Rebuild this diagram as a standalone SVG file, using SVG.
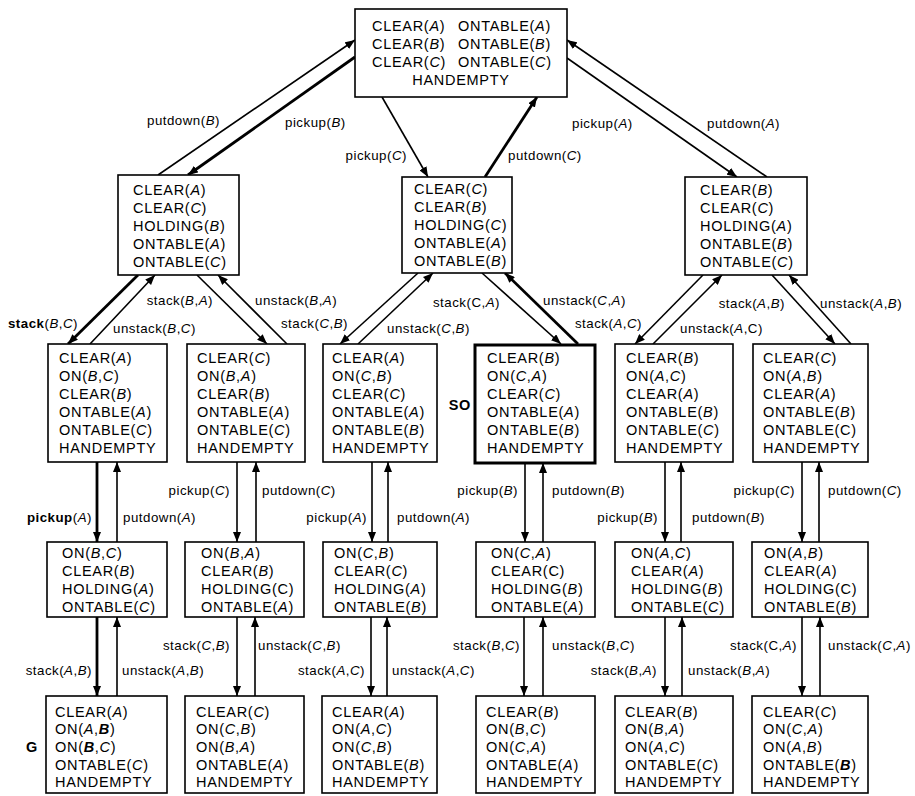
<svg xmlns="http://www.w3.org/2000/svg" width="915" height="796" viewBox="0 0 915 796">
<defs>
<style>
.box{fill:#fff;stroke:#000;stroke-width:1.6}
.so{stroke-width:3}
text{font-family:"Liberation Sans",Arial,sans-serif;font-size:14.5px;letter-spacing:0.7px;fill:#000}
.l{font-size:13.3px;letter-spacing:0.5px}
.r{text-anchor:end}
.m{text-anchor:middle}
.i{font-style:italic}
.bd{font-weight:bold}
.e{stroke:#000;stroke-width:1.6;fill:none;marker-end:url(#ah)}
.k{stroke-width:2.8}
</style>
<marker id="ah" viewBox="0 0 10 8" refX="10" refY="4" markerWidth="10" markerHeight="8" markerUnits="userSpaceOnUse" orient="auto"><path d="M0,0L10,4L0,8z" fill="#000"/></marker>
</defs>
<rect width="915" height="796" fill="#fff"/>

<g id="connectors">
<!-- level 1 to level 2 -->
<line class="e" x1="158" y1="175" x2="355" y2="40"/>
<line class="e k" x1="355" y1="57" x2="188" y2="175"/>
<line class="e" x1="382" y1="97" x2="428" y2="177"/>
<line class="e k" x1="485" y1="177" x2="537" y2="97"/>
<line class="e" x1="567" y1="58" x2="737" y2="177"/>
<line class="e" x1="767" y1="177" x2="567" y2="40"/>
<!-- level 2 to level 3 -->
<line class="e k" x1="138" y1="275" x2="68" y2="344"/>
<line class="e" x1="90" y1="344" x2="155" y2="275"/>
<line class="e" x1="197" y1="275" x2="267" y2="344"/>
<line class="e" x1="287" y1="344" x2="218" y2="275"/>
<line class="e" x1="418" y1="273" x2="340" y2="344"/>
<line class="e" x1="358" y1="344" x2="433" y2="273"/>
<line class="e" x1="482" y1="273" x2="561" y2="344"/>
<line class="e k" x1="578" y1="344" x2="505" y2="273"/>
<line class="e" x1="703" y1="275" x2="635" y2="344"/>
<line class="e" x1="653" y1="344" x2="722" y2="275"/>
<line class="e" x1="772" y1="275" x2="835" y2="344"/>
<line class="e" x1="851" y1="344" x2="789" y2="275"/>
<!-- level 3 to level 4 -->
<line class="e k" x1="97" y1="462" x2="97" y2="542"/>
<line class="e" x1="117" y1="542" x2="117" y2="462"/>
<line class="e" x1="237" y1="462" x2="237" y2="542"/>
<line class="e" x1="256" y1="542" x2="256" y2="462"/>
<line class="e" x1="372" y1="462" x2="372" y2="542"/>
<line class="e" x1="388" y1="542" x2="388" y2="462"/>
<line class="e" x1="525" y1="463" x2="525" y2="542"/>
<line class="e" x1="543" y1="542" x2="543" y2="463"/>
<line class="e" x1="665" y1="462" x2="665" y2="542"/>
<line class="e" x1="681" y1="542" x2="681" y2="462"/>
<line class="e" x1="802" y1="462" x2="802" y2="542"/>
<line class="e" x1="819" y1="542" x2="819" y2="462"/>
<!-- level 4 to level 5 -->
<line class="e k" x1="97" y1="617" x2="97" y2="696"/>
<line class="e" x1="117" y1="696" x2="117" y2="617"/>
<line class="e" x1="237" y1="617" x2="237" y2="696"/>
<line class="e" x1="255" y1="696" x2="255" y2="617"/>
<line class="e" x1="371" y1="617" x2="371" y2="696"/>
<line class="e" x1="387" y1="696" x2="387" y2="617"/>
<line class="e" x1="524" y1="617" x2="524" y2="696"/>
<line class="e" x1="543" y1="696" x2="543" y2="617"/>
<line class="e" x1="665" y1="617" x2="665" y2="696"/>
<line class="e" x1="682" y1="696" x2="682" y2="617"/>
<line class="e" x1="802" y1="617" x2="802" y2="696"/>
<line class="e" x1="820" y1="696" x2="820" y2="617"/>

<!-- labels -->
<text class="l r" x="220" y="125">putdown(<tspan class="i">B</tspan>)</text>
<text class="l" x="285" y="127">pickup(<tspan class="i">B</tspan>)</text>
<text class="l r" x="407" y="160">pickup(<tspan class="i">C</tspan>)</text>
<text class="l" x="508" y="160">putdown(<tspan class="i">C</tspan>)</text>
<text class="l" x="572" y="128">pickup(<tspan class="i">A</tspan>)</text>
<text class="l" x="707" y="128">putdown(<tspan class="i">A</tspan>)</text>

<text class="l r" x="78" y="328"><tspan class="bd">stack</tspan>(<tspan class="i">B</tspan>,<tspan class="i">C</tspan>)</text>
<text class="l" x="113" y="333">unstack(<tspan class="i">B</tspan>,<tspan class="i">C</tspan>)</text>
<text class="l r" x="213" y="305">stack(<tspan class="i">B</tspan>,<tspan class="i">A</tspan>)</text>
<text class="l" x="255" y="305">unstack(<tspan class="i">B</tspan>,<tspan class="i">A</tspan>)</text>
<text class="l r" x="348" y="328">stack(<tspan class="i">C</tspan>,<tspan class="i">B</tspan>)</text>
<text class="l" x="387" y="333">unstack(<tspan class="i">C</tspan>,<tspan class="i">B</tspan>)</text>
<text class="l r" x="500" y="307">stack(C,<tspan class="i">A</tspan>)</text>
<text class="l" x="543" y="305">unstack(<tspan class="i">C</tspan>,<tspan class="i">A</tspan>)</text>
<text class="l r" x="642" y="328">stack(<tspan class="i">A</tspan>,<tspan class="i">C</tspan>)</text>
<text class="l" x="680" y="333">unstack(<tspan class="i">A</tspan>,C)</text>
<text class="l r" x="785" y="308">stack(<tspan class="i">A</tspan>,<tspan class="i">B</tspan>)</text>
<text class="l" x="820" y="308">unstack(<tspan class="i">A</tspan>,<tspan class="i">B</tspan>)</text>

<text class="l r" x="92" y="522"><tspan class="bd">pickup</tspan>(<tspan class="i">A</tspan>)</text>
<text class="l" x="123" y="522">putdown(<tspan class="i">A</tspan>)</text>
<text class="l r" x="230" y="495">pickup(<tspan class="i">C</tspan>)</text>
<text class="l" x="262" y="495">putdown(<tspan class="i">C</tspan>)</text>
<text class="l r" x="367" y="522">pickup(<tspan class="i">A</tspan>)</text>
<text class="l" x="397" y="522">putdown(<tspan class="i">A</tspan>)</text>
<text class="l r" x="518" y="495">pickup(<tspan class="i">B</tspan>)</text>
<text class="l" x="552" y="495">putdown(<tspan class="i">B</tspan>)</text>
<text class="l r" x="658" y="522">pickup(<tspan class="i">B</tspan>)</text>
<text class="l" x="692" y="522">putdown(<tspan class="i">B</tspan>)</text>
<text class="l r" x="795" y="495">pickup(<tspan class="i">C</tspan>)</text>
<text class="l" x="828" y="495">putdown(<tspan class="i">C</tspan>)</text>

<text class="l r" x="92" y="675">stack(<tspan class="i">A</tspan>,<tspan class="i">B</tspan>)</text>
<text class="l" x="122" y="675">unstack(<tspan class="i">A</tspan>,<tspan class="i">B</tspan>)</text>
<text class="l r" x="230" y="650">stack(<tspan class="i">C</tspan>,<tspan class="i">B</tspan>)</text>
<text class="l" x="258" y="650">unstack(<tspan class="i">C</tspan>,<tspan class="i">B</tspan>)</text>
<text class="l r" x="365" y="675">stack(<tspan class="i">A</tspan>,<tspan class="i">C</tspan>)</text>
<text class="l" x="392" y="675">unstack(<tspan class="i">A</tspan>,<tspan class="i">C</tspan>)</text>
<text class="l r" x="520" y="650">stack(<tspan class="i">B</tspan>,<tspan class="i">C</tspan>)</text>
<text class="l" x="552" y="650">unstack(<tspan class="i">B</tspan>,<tspan class="i">C</tspan>)</text>
<text class="l r" x="657" y="675">stack(<tspan class="i">B</tspan>,<tspan class="i">A</tspan>)</text>
<text class="l" x="688" y="675">unstack(<tspan class="i">B</tspan>,<tspan class="i">A</tspan>)</text>
<text class="l r" x="797" y="650">stack(C,<tspan class="i">A</tspan>)</text>
<text class="l" x="828" y="650">unstack(<tspan class="i">C</tspan>,<tspan class="i">A</tspan>)</text>
</g>

<g id="start-table">
<rect class="box" x="355" y="9" width="212" height="88"/>
<text x="372" y="31">CLEAR(<tspan class="i">A</tspan>)</text><text x="458" y="31">ONTABLE(<tspan class="i">A</tspan>)</text>
<text x="372" y="49">CLEAR(<tspan class="i">B</tspan>)</text><text x="458" y="49">ONTABLE(<tspan class="i">B</tspan>)</text>
<text x="372" y="67">CLEAR(<tspan class="i">C</tspan>)</text><text x="458" y="67">ONTABLE(<tspan class="i">C</tspan>)</text>
<text class="m" x="461" y="85">HANDEMPTY</text>
</g>

<g id="hold-B">
<rect class="box" x="118" y="175" width="121" height="100"/>
<text x="133" y="195">CLEAR(<tspan class="i">A</tspan>)</text>
<text x="133" y="213">CLEAR(<tspan class="i">C</tspan>)</text>
<text x="133" y="231">HOLDING(<tspan class="i">B</tspan>)</text>
<text x="133" y="249">ONTABLE(<tspan class="i">A</tspan>)</text>
<text x="133" y="267">ONTABLE(<tspan class="i">C</tspan>)</text>
</g>

<g id="hold-C">
<rect class="box" x="402" y="177" width="110" height="96"/>
<text x="414" y="194">CLEAR(<tspan class="i">C</tspan>)</text>
<text x="414" y="212">CLEAR(<tspan class="i">B</tspan>)</text>
<text x="414" y="230">HOLDING(<tspan class="i">C</tspan>)</text>
<text x="414" y="248">ONTABLE(<tspan class="i">A</tspan>)</text>
<text x="414" y="266">ONTABLE(<tspan class="i">B</tspan>)</text>
</g>

<g id="hold-A">
<rect class="box" x="685" y="177" width="122" height="98"/>
<text x="700" y="195">CLEAR(<tspan class="i">B</tspan>)</text>
<text x="700" y="213">CLEAR(<tspan class="i">C</tspan>)</text>
<text x="700" y="231">HOLDING(<tspan class="i">A</tspan>)</text>
<text x="700" y="249">ONTABLE(<tspan class="i">B</tspan>)</text>
<text x="700" y="267">ONTABLE(<tspan class="i">C</tspan>)</text>
</g>

<g id="on-BC">
<rect class="box" x="48" y="344" width="119" height="118"/>
<text x="59" y="363">CLEAR(<tspan class="i">A</tspan>)</text>
<text x="59" y="381">ON(<tspan class="i">B</tspan>,<tspan class="i">C</tspan>)</text>
<text x="59" y="399">CLEAR(<tspan class="i">B</tspan>)</text>
<text x="59" y="417">ONTABLE(<tspan class="i">A</tspan>)</text>
<text x="59" y="435">ONTABLE(<tspan class="i">C</tspan>)</text>
<text x="59" y="453">HANDEMPTY</text>
</g>

<g id="on-BA">
<rect class="box" x="187" y="344" width="118" height="118"/>
<text x="197" y="363">CLEAR(<tspan class="i">C</tspan>)</text>
<text x="197" y="381">ON(<tspan class="i">B</tspan>,<tspan class="i">A</tspan>)</text>
<text x="197" y="399">CLEAR(<tspan class="i">B</tspan>)</text>
<text x="197" y="417">ONTABLE(<tspan class="i">A</tspan>)</text>
<text x="197" y="435">ONTABLE(<tspan class="i">C</tspan>)</text>
<text x="197" y="453">HANDEMPTY</text>
</g>

<g id="on-CB">
<rect class="box" x="323" y="344" width="114" height="118"/>
<text x="332" y="363">CLEAR(<tspan class="i">A</tspan>)</text>
<text x="332" y="381">ON(<tspan class="i">C</tspan>,<tspan class="i">B</tspan>)</text>
<text x="332" y="399">CLEAR(<tspan class="i">C</tspan>)</text>
<text x="332" y="417">ONTABLE(<tspan class="i">A</tspan>)</text>
<text x="332" y="435">ONTABLE(<tspan class="i">B</tspan>)</text>
<text x="332" y="453">HANDEMPTY</text>
</g>

<g id="S0">
<rect class="box so" x="475" y="345" width="120" height="118"/>
<text class="bd r" x="471" y="410">SO</text>
<text x="487" y="363">CLEAR(<tspan class="i">B</tspan>)</text>
<text x="487" y="381">ON(<tspan class="i">C</tspan>,<tspan class="i">A</tspan>)</text>
<text x="487" y="399">CLEAR(<tspan class="i">C</tspan>)</text>
<text x="487" y="417">ONTABLE(<tspan class="i">A</tspan>)</text>
<text x="487" y="435">ONTABLE(<tspan class="i">B</tspan>)</text>
<text x="487" y="453">HANDEMPTY</text>
</g>

<g id="on-AC">
<rect class="box" x="615" y="344" width="118" height="118"/>
<text x="626" y="363">CLEAR(<tspan class="i">B</tspan>)</text>
<text x="626" y="381">ON(<tspan class="i">A</tspan>,<tspan class="i">C</tspan>)</text>
<text x="626" y="399">CLEAR(<tspan class="i">A</tspan>)</text>
<text x="626" y="417">ONTABLE(<tspan class="i">B</tspan>)</text>
<text x="626" y="435">ONTABLE(<tspan class="i">C</tspan>)</text>
<text x="626" y="453">HANDEMPTY</text>
</g>

<g id="on-AB">
<rect class="box" x="753" y="344" width="115" height="118"/>
<text x="763" y="363">CLEAR(<tspan class="i">C</tspan>)</text>
<text x="763" y="381">ON(<tspan class="i">A</tspan>,<tspan class="i">B</tspan>)</text>
<text x="763" y="399">CLEAR(<tspan class="i">A</tspan>)</text>
<text x="763" y="417">ONTABLE(<tspan class="i">B</tspan>)</text>
<text x="763" y="435">ONTABLE(C)</text>
<text x="763" y="453">HANDEMPTY</text>
</g>

<g id="BC-hold-A">
<rect class="box" x="47" y="542" width="120" height="75"/>
<text x="62" y="558">ON(<tspan class="i">B</tspan>,<tspan class="i">C</tspan>)</text>
<text x="62" y="576">CLEAR(<tspan class="i">B</tspan>)</text>
<text x="62" y="594">HOLDING(<tspan class="i">A</tspan>)</text>
<text x="62" y="612">ONTABLE(<tspan class="i">C</tspan>)</text>
</g>

<g id="BA-hold-C">
<rect class="box" x="185" y="542" width="119" height="75"/>
<text x="201" y="558">ON(<tspan class="i">B</tspan>,<tspan class="i">A</tspan>)</text>
<text x="201" y="576">CLEAR(<tspan class="i">B</tspan>)</text>
<text x="201" y="594">HOLDING(C)</text>
<text x="201" y="612">ONTABLE(<tspan class="i">A</tspan>)</text>
</g>

<g id="CB-hold-A">
<rect class="box" x="323" y="542" width="114" height="75"/>
<text x="334" y="558">ON(<tspan class="i">C</tspan>,<tspan class="i">B</tspan>)</text>
<text x="334" y="576">CLEAR(<tspan class="i">C</tspan>)</text>
<text x="334" y="594">HOLDING(<tspan class="i">A</tspan>)</text>
<text x="334" y="612">ONTABLE(<tspan class="i">B</tspan>)</text>
</g>

<g id="CA-hold-B">
<rect class="box" x="476" y="542" width="119" height="75"/>
<text x="491" y="558">ON(<tspan class="i">C</tspan>,<tspan class="i">A</tspan>)</text>
<text x="491" y="576">CLEAR(C)</text>
<text x="491" y="594">HOLDING(<tspan class="i">B</tspan>)</text>
<text x="491" y="612">ONTABLE(<tspan class="i">A</tspan>)</text>
</g>

<g id="AC-hold-B">
<rect class="box" x="615" y="542" width="118" height="75"/>
<text x="631" y="558">ON(<tspan class="i">A</tspan>,<tspan class="i">C</tspan>)</text>
<text x="631" y="576">CLEAR(<tspan class="i">A</tspan>)</text>
<text x="631" y="594">HOLDING(<tspan class="i">B</tspan>)</text>
<text x="631" y="612">ONTABLE(<tspan class="i">C</tspan>)</text>
</g>

<g id="AB-hold-C">
<rect class="box" x="752" y="542" width="116" height="75"/>
<text x="764" y="558">ON(<tspan class="i">A</tspan>,<tspan class="i">B</tspan>)</text>
<text x="764" y="576">CLEAR(<tspan class="i">A</tspan>)</text>
<text x="764" y="594">HOLDING(C)</text>
<text x="764" y="612">ONTABLE(<tspan class="i">B</tspan>)</text>
</g>

<g id="G">
<rect class="box" x="46" y="696" width="121" height="97"/>
<text class="bd" x="26" y="752">G</text>
<text x="55" y="717">CLEAR(<tspan class="i">A</tspan>)</text>
<text x="55" y="734">ON(<tspan class="i">A</tspan>,<tspan class="i bd">B</tspan>)</text>
<text x="55" y="752">ON(<tspan class="i bd">B</tspan>,<tspan class="i">C</tspan>)</text>
<text x="55" y="770">ONTABLE(<tspan class="i">C</tspan>)</text>
<text x="55" y="787">HANDEMPTY</text>
</g>

<g id="C-B-A">
<rect class="box" x="185" y="696" width="119" height="97"/>
<text x="196" y="717">CLEAR(<tspan class="i">C</tspan>)</text>
<text x="196" y="734">ON(<tspan class="i">C</tspan>,<tspan class="i">B</tspan>)</text>
<text x="196" y="752">ON(<tspan class="i">B</tspan>,<tspan class="i">A</tspan>)</text>
<text x="196" y="770">ONTABLE(<tspan class="i">A</tspan>)</text>
<text x="196" y="787">HANDEMPTY</text>
</g>

<g id="A-C-B">
<rect class="box" x="322" y="696" width="115" height="97"/>
<text x="332" y="717">CLEAR(<tspan class="i">A</tspan>)</text>
<text x="332" y="734">ON(<tspan class="i">A</tspan>,<tspan class="i">C</tspan>)</text>
<text x="332" y="752">ON(<tspan class="i">C</tspan>,<tspan class="i">B</tspan>)</text>
<text x="332" y="770">ONTABLE(<tspan class="i">B</tspan>)</text>
<text x="332" y="787">HANDEMPTY</text>
</g>

<g id="B-C-A">
<rect class="box" x="476" y="696" width="119" height="97"/>
<text x="486" y="717">CLEAR(<tspan class="i">B</tspan>)</text>
<text x="486" y="734">ON(<tspan class="i">B</tspan>,<tspan class="i">C</tspan>)</text>
<text x="486" y="752">ON(<tspan class="i">C</tspan>,<tspan class="i">A</tspan>)</text>
<text x="486" y="770">ONTABLE(<tspan class="i">A</tspan>)</text>
<text x="486" y="787">HANDEMPTY</text>
</g>

<g id="B-A-C">
<rect class="box" x="615" y="696" width="118" height="97"/>
<text x="625" y="717">CLEAR(<tspan class="i">B</tspan>)</text>
<text x="625" y="734">ON(<tspan class="i">B</tspan>,<tspan class="i">A</tspan>)</text>
<text x="625" y="752">ON(<tspan class="i">A</tspan>,<tspan class="i">C</tspan>)</text>
<text x="625" y="770">ONTABLE(<tspan class="i">C</tspan>)</text>
<text x="625" y="787">HANDEMPTY</text>
</g>

<g id="C-A-B">
<rect class="box" x="752" y="696" width="116" height="97"/>
<text x="763" y="717">CLEAR(<tspan class="i">C</tspan>)</text>
<text x="763" y="734">ON(<tspan class="i">C</tspan>,<tspan class="i">A</tspan>)</text>
<text x="763" y="752">ON(<tspan class="i">A</tspan>,<tspan class="i">B</tspan>)</text>
<text x="763" y="770">ONTABLE(<tspan class="i bd">B</tspan>)</text>
<text x="763" y="787">HANDEMPTY</text>
</g>
</svg>
